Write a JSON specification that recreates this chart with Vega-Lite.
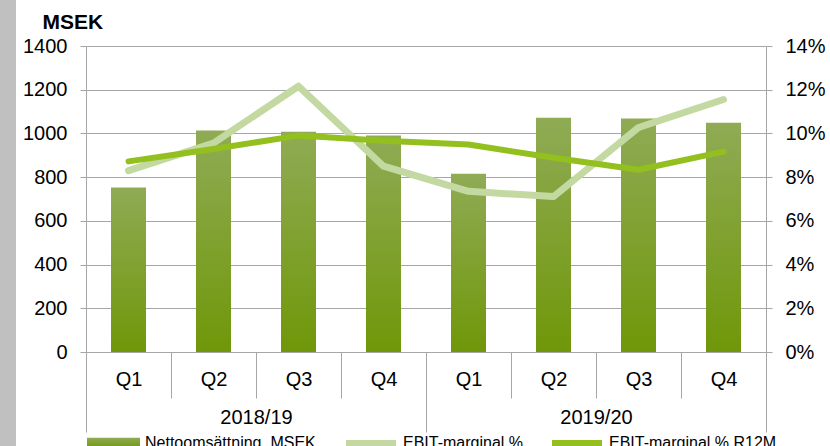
{
  "$schema": "https://vega.github.io/schema/vega-lite/v6.json",
  "width": 680,
  "height": 306,
  "autosize": {"type": "none"},
  "padding": {"left": 86, "top": 46, "right": 64, "bottom": 94},
  "background": "white",
  "config": {
    "font": "Liberation Sans",
    "view": {"stroke": null},
    "axis": {"labelFont": "Liberation Sans", "labelColor": "#000000", "titleFont": "Liberation Sans"},
    "legend": {"labelFont": "Liberation Sans"}
  },
  "datasets": {
    "quarters": [
      {"key": "2018/19 Q1", "value": 753, "ebit": 0.0830, "r12m": 0.0872},
      {"key": "2018/19 Q2", "value": 1013, "ebit": 0.0956, "r12m": 0.0929},
      {"key": "2018/19 Q3", "value": 1008, "ebit": 0.1216, "r12m": 0.0990},
      {"key": "2018/19 Q4", "value": 990, "ebit": 0.0850, "r12m": 0.0967},
      {"key": "2019/20 Q1", "value": 816, "ebit": 0.0735, "r12m": 0.0949},
      {"key": "2019/20 Q2", "value": 1072, "ebit": 0.0711, "r12m": 0.0889},
      {"key": "2019/20 Q3", "value": 1068, "ebit": 0.1027, "r12m": 0.0834},
      {"key": "2019/20 Q4", "value": 1049, "ebit": 0.1155, "r12m": 0.0917}
    ],
    "years": [{"year": "2018/19"}, {"year": "2019/20"}]
  },
  "layer": [
    {
      "data": {"name": "quarters"},
      "layer": [
        {
          "mark": {
            "type": "bar",
            "width": 35,
            "strokeWidth": 0,
            "fill": {
              "gradient": "linear", "x1": 0, "y1": 0, "x2": 0, "y2": 1,
              "stops": [{"offset": 0, "color": "#8fab55"}, {"offset": 1, "color": "#709709"}]
            }
          },
          "encoding": {
            "x": {
              "field": "key", "type": "nominal", "sort": null,
              "scale": {"type": "band", "paddingInner": 0, "paddingOuter": 0},
              "axis": {
                "title": null, "labelExpr": "split(datum.label, ' ')[1]", "labelAngle": 0,
                "labelFontSize": 20, "labelColor": "#000000", "tickBand": "extent", "tickSize": 46,
                "tickColor": "#a6a6a6", "tickWidth": 1, "domainColor": "#a6a6a6", "labelPadding": -29,
                "labelBaseline": "top", "grid": false, "labelOverlap": false
              }
            },
            "y": {
              "field": "value", "type": "quantitative", "scale": {"domain": [0, 1400], "nice": false},
              "axis": {
                "values": [0, 200, 400, 600, 800, 1000, 1200, 1400], "format": "d",
                "title": "MSEK", "titleAngle": 0, "titleAlign": "left", "titleBaseline": "alphabetic",
                "titleX": -44, "titleY": -18, "titleFontSize": 21, "titleFontWeight": "bold", "titleColor": "#000000",
                "labelFontSize": 20, "labelPadding": 13, "tickSize": 6, "tickColor": "#a6a6a6",
                "domainColor": "#a6a6a6", "grid": true, "gridColor": "#a6a6a6", "gridWidth": 1.2
              }
            },
            "stroke": {
              "datum": "Nettoomsättning, MSEK",
              "scale": {"domain": ["Nettoomsättning, MSEK"], "range": ["#789c17"]},
              "legend": {
                "orient": "none", "legendX": 1, "legendY": 370.5, "direction": "horizontal", "title": null,
                "symbolType": "M-1,-0.2H1V0.2H-1Z", "symbolSize": 2809, "symbolStrokeWidth": 0,
                "symbolFillColor": "#789c17", "labelFontSize": 16, "labelColor": "#000000",
                "labelOffset": 5, "padding": 0, "labelLimit": 400
              }
            }
          }
        },
        {
          "layer": [
            {
              "mark": {"type": "line", "strokeWidth": 7, "strokeCap": "round", "strokeJoin": "round"},
              "encoding": {
                "x": {"field": "key", "type": "nominal", "sort": null},
                "y": {
                  "field": "ebit", "type": "quantitative", "scale": {"domain": [0, 0.14], "nice": false},
                  "axis": {
                    "orient": "right", "values": [0, 0.02, 0.04, 0.06, 0.08, 0.1, 0.12, 0.14],
                    "format": ".0%", "title": null, "labelFontSize": 20, "labelPadding": 13,
                    "tickSize": 6, "tickColor": "#a6a6a6", "domainColor": "#a6a6a6", "grid": false
                  }
                },
                "color": {
                  "datum": "EBIT-marginal %",
                  "scale": {"domain": ["EBIT-marginal %", "EBIT-marginal % R12M"], "range": ["#c4d9a2", "#93c01f"]},
                  "legend": {
                    "orient": "none", "legendX": 257, "legendY": 369, "direction": "horizontal", "title": null,
                    "symbolType": "stroke", "symbolSize": 2500, "symbolStrokeWidth": 6,
                    "labelFontSize": 16, "labelColor": "#000000", "labelOffset": 4, "columnPadding": 16,
                    "padding": 0, "labelLimit": 400
                  }
                }
              }
            },
            {
              "mark": {"type": "line", "strokeWidth": 6, "strokeCap": "round", "strokeJoin": "round"},
              "encoding": {
                "x": {"field": "key", "type": "nominal", "sort": null},
                "y": {"field": "r12m", "type": "quantitative"},
                "color": {"datum": "EBIT-marginal % R12M"}
              }
            }
          ]
        }
      ],
      "resolve": {"scale": {"y": "independent"}}
    },
    {
      "data": {"name": "years"},
      "mark": {"type": "text", "text": ""},
      "encoding": {
        "x": {
          "field": "year", "type": "nominal",
          "scale": {"type": "band", "paddingInner": 0, "paddingOuter": 0},
          "axis": {
            "orient": "bottom", "title": null, "labelAngle": 0, "labelFontSize": 20, "labelColor": "#000000",
            "tickBand": "extent", "tickSize": 80, "tickColor": "#a6a6a6", "domainColor": "#a6a6a6",
            "labelPadding": -25, "labelBaseline": "top", "grid": false
          }
        },
        "fill": {
          "datum": 0.5, "type": "quantitative",
          "scale": {"domain": [0, 1], "range": ["#c0c0c0", "#c0c0c0"]},
          "legend": {
            "type": "gradient", "orient": "none", "legendX": -86, "legendY": -46, "direction": "vertical",
            "gradientLength": 446, "gradientThickness": 16, "labelExpr": "''", "labelOpacity": 0,
            "labelFontSize": 1, "tickCount": 1, "title": null, "gradientStrokeWidth": 0, "padding": 0
          }
        }
      }
    }
  ],
  "resolve": {"scale": {"x": "independent", "y": "independent"}}
}
